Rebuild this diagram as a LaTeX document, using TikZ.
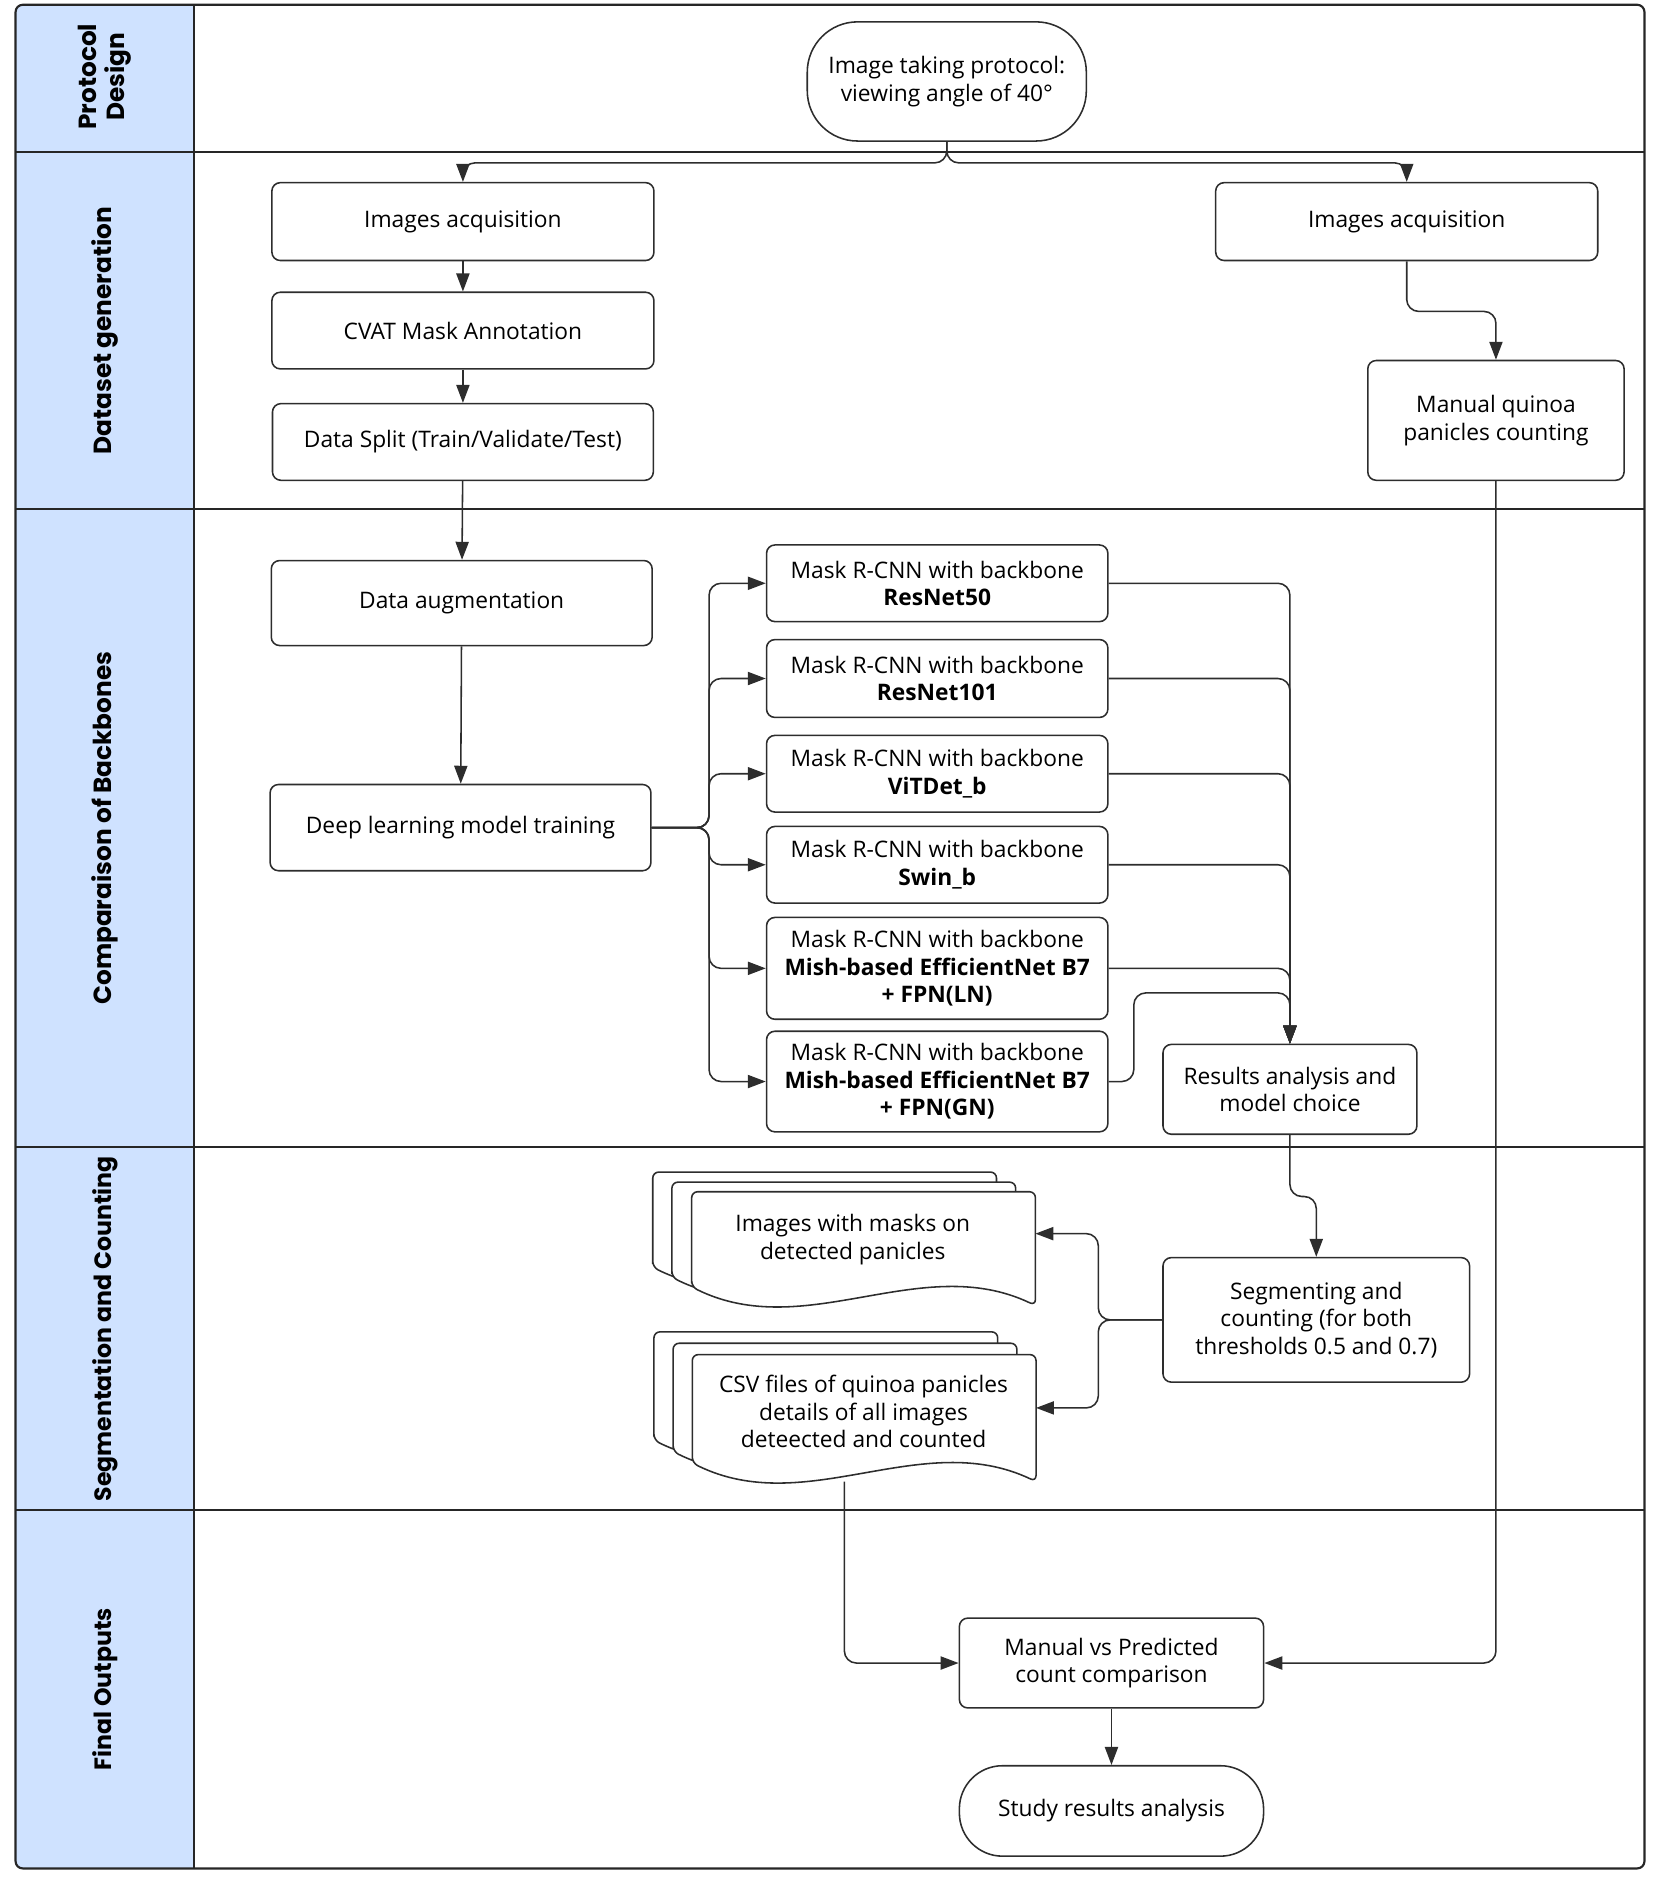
\documentclass[tikz,border=0pt]{standalone}
\usepackage{fontspec}
\setmainfont{Open Sans}
\newfontfamily\lanefont{Poppins}
\usetikzlibrary{arrows.meta}
\definecolor{lanebg}{RGB}{207,226,255}
\definecolor{ink}{RGB}{45,45,45}
\tikzset{
  box/.style={draw=ink, line width=1.3pt, rounded corners=7pt, fill=white, align=center, inner sep=0pt},
  conn/.style={draw=ink, line width=1.3pt, rounded corners=10pt, -{Triangle[length=15pt,width=11pt]}},
  laneline/.style={draw=black!85, line width=1.8pt},
  lanelabel/.style={font=\lanefont\bfseries\fontsize{20.7}{24}\selectfont, rotate=90, align=center, inner sep=0pt},
  smalllane/.style={font=\lanefont\bfseries\fontsize{19.7}{24}\selectfont},
  docpage/.style={draw=ink, line width=1.3pt, fill=white, rounded corners=5pt},
}
\newcommand{\docpg}[4]{% L, T, W, H(left)
  \path[docpage] (#1,{#2+#4}) -- (#1,#2) -- ({#1+#3},#2) -- ({#1+#3},{#2+#4+15.5})
    .. controls ({#1+0.667*#3},{#2+#4-30}) and ({#1+0.333*#3},{#2+#4+47}) .. (#1,{#2+#4}) -- cycle;
}
\begin{document}
\begin{tikzpicture}[x=1pt,y=-1pt, font=\fontsize{19}{23}\selectfont]
\useasboundingbox (0,0) rectangle (1381,1568);
% lanes
\begin{scope}
  \clip[rounded corners=6pt] (13,4) rectangle (1373,1560);
  \fill[lanebg] (13,4) rectangle (162,1560);
\end{scope}
\draw[laneline] (13,127) -- (1373,127);
\draw[laneline] (13,425) -- (1373,425);
\draw[laneline] (13,958) -- (1373,958);
\draw[laneline] (13,1261) -- (1373,1261);
\draw[laneline] (162,4) -- (162,1560);
\draw[laneline, rounded corners=6pt] (13,4) rectangle (1373,1560);

\node[lanelabel] (L1) at (87.5,64) {Protocol\\Design};
\node[lanelabel] (L2) at (87.5,276) {Dataset generation};
\node[lanelabel] (L3) at (87.5,691.5) {Comparaison of Backbones};
\node[lanelabel, smalllane] (L4) at (87.5,1109.5) {Segmentation and Counting};
\node[lanelabel, smalllane] (L5) at (87.5,1410.5) {Final Outputs};

% nodes
\node[box, rounded corners=42pt, minimum width=233pt, minimum height=99.5pt] (proto) at (790.5,68) {Image taking protocol:\\viewing angle of 40°};
\node[box, minimum width=319pt, minimum height=65pt] (acqL) at (386.5,185) {Images acquisition};
\node[box, minimum width=319pt, minimum height=65pt] (acqR) at (1174.5,185) {Images acquisition};
\node[box, minimum width=319pt, minimum height=64pt] (cvat) at (386.5,276) {CVAT Mask Annotation};
\node[box, minimum width=318pt, minimum height=64pt] (split) at (386.5,369) {Data Split (Train/Validate/Test)};
\node[box, minimum width=214pt, minimum height=100pt] (manual) at (1249,351) {Manual quinoa\\panicles counting};
\node[box, minimum width=318pt, minimum height=71pt] (aug) at (385.5,503.5) {Data augmentation};
\node[box, minimum width=318pt, minimum height=72pt] (deep) at (384.5,691) {Deep learning model training};
\node[box, minimum width=285pt, minimum height=64pt] (m1) at (782.5,487) {Mask R-CNN with backbone\\\textbf{ResNet50}};
\node[box, minimum width=285pt, minimum height=65pt] (m2) at (782.5,566.5) {Mask R-CNN with backbone\\\textbf{ResNet101}};
\node[box, minimum width=285pt, minimum height=64pt] (m3) at (782.5,646) {Mask R-CNN with backbone\\\textbf{ViTDet\_b}};
\node[box, minimum width=285pt, minimum height=64pt] (m4) at (782.5,722) {Mask R-CNN with backbone\\\textbf{Swin\_b}};
\node[box, minimum width=285pt, minimum height=85pt] (m5) at (782.5,808.5) {Mask R-CNN with backbone\\\textbf{Mish-based EfficientNet B7}\\\textbf{+ FPN(LN)}};
\node[box, minimum width=285pt, minimum height=84pt] (m6) at (782.5,903) {Mask R-CNN with backbone\\\textbf{Mish-based EfficientNet B7}\\\textbf{+ FPN(GN)}};
\node[box, minimum width=212pt, minimum height=75pt] (res) at (1077,909.5) {Results analysis and\\model choice};
\node[box, minimum width=256pt, minimum height=104pt] (seg) at (1099,1102) {Segmenting and\\counting (for both\\thresholds 0.5 and 0.7)};
\node[box, minimum width=254pt, minimum height=75pt] (mvp) at (928,1388.5) {Manual vs Predicted\\count comparison};
\node[box, rounded corners=36pt, minimum width=254pt, minimum height=75.5pt] (study) at (928,1512) {Study results analysis};

% multi-documents
\docpg{545}{978.6}{287}{79.5}
\docpg{561}{987}{287}{79.5}
\docpg{577.5}{995}{287}{79.5}
\node[align=center, inner sep=0pt] (img) at (712,1035) {Images with masks on\\detected panicles};
\coordinate (imgE) at (864.5,1030);
\docpg{546}{1112}{287}{90.5}
\docpg{562}{1121.5}{287}{90.5}
\docpg{578}{1131}{287}{90.5}
\node[align=center, inner sep=0pt] (csv) at (721,1178.5) {CSV files of quinoa panicles\\details of all images\\deteected and counted};
\coordinate (csvE) at (865,1175.5);
\coordinate (csvS) at (705,1237);

% connectors
\draw[conn] (proto.south) -- (proto.south |- 0,136) -| (acqL.north);
\draw[conn] (proto.south) -- (proto.south |- 0,136) -| (acqR.north);
\draw[conn] (acqL) -- (cvat);
\draw[conn] (cvat) -- (split);
\draw[conn] (split) -- (aug);
\draw[conn] (aug) -- (deep);
\draw[conn] (acqR.south) -- (acqR.south |- 0,260) -| (manual.north);
\foreach \m in {m1,m2,m3,m4,m5,m6}{
  \draw[conn] (deep.east) -- (deep.east -| 592,0) |- (\m.west);
}
\foreach \m in {m1,m2,m3,m4,m5}{
  \draw[conn] (\m.east) -| (res.north);
}
\draw[conn] (m6.east) -- ++(21,0) |- (res.north |- 0,829) -- (res.north);
\draw[conn] (res.south) -- (res.south |- 0,999) -| (seg.north);
\draw[conn] (seg.west) -- (seg.west -| 917,0) |- (imgE);
\draw[conn] (seg.west) -- (seg.west -| 917,0) |- (csvE);
\draw[conn] (csvS) |- (mvp.west);
\draw[conn] (manual.south) |- (mvp.east);
\draw[conn] (mvp) -- (study);
\end{tikzpicture}
\end{document}
